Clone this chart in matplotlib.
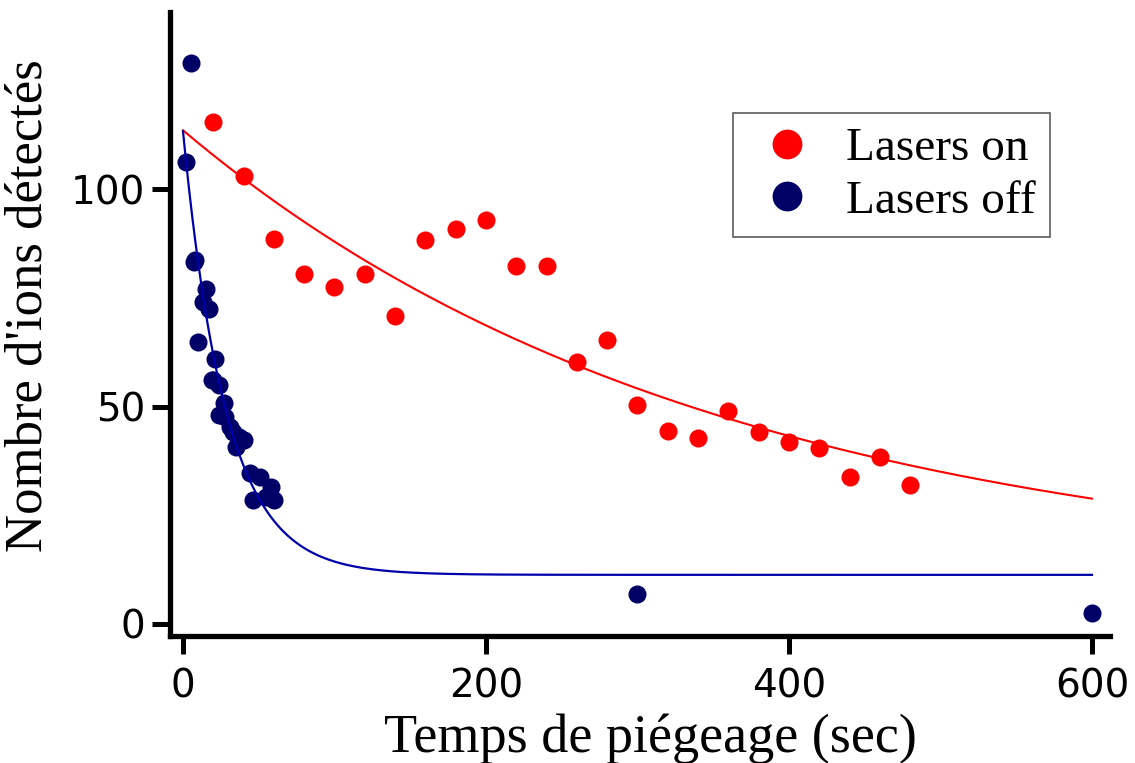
import numpy as np
import matplotlib
matplotlib.use("Agg")
import matplotlib.pyplot as plt

# ===============================
# DATA
# ===============================
t_on = [20, 40, 60, 80, 100, 120, 140, 160, 180, 200, 220, 240,
        260, 280, 300, 320, 340, 360, 380, 400, 420, 440, 460, 480]
n_on = [115.5, 103, 88.5, 80.5, 77.5, 80.5, 70.8, 88.3, 90.8, 92.8, 82.3, 82.3,
        60.2, 65.3, 50.3, 44.4, 42.8, 49, 44.1, 41.8, 40.5, 33.8, 38.4, 32]

t_off = [2, 5, 7, 8, 10, 13, 15, 17, 19, 20, 21, 24, 24, 27, 28, 31, 33,
         35, 37, 40, 44, 46, 51, 55, 58, 60, 300, 600]
n_off = [106.3, 129, 83.2, 83.7, 64.8, 74, 77, 72.4, 56, 56.1, 61, 55, 48, 50.7,
         47.7, 45.4, 44.1, 40.8, 43, 42.3, 34.6, 28.5, 33.9, 29.3, 31.6, 28.5, 7, 2.5]

# exponential fit parameters: amplitude, time constant (s), offset
fit_on = (103.5, 352.0, 10.0)
fit_off = (102.0, 28.5, 11.3)

RED = "#ff0000"
NAVY = "#000066"
BLUE_LINE = "#0000aa"

# ===============================
# PLOT
# ===============================
fig = plt.figure(figsize=(11.35, 7.63), dpi=100)
ax = fig.add_axes([170 / 1135, 127 / 763, 940 / 1135, 624 / 763])

tt = np.linspace(0, 600, 600)
a, tau, c = fit_on
ax.plot(tt, a * np.exp(-tt / tau) + c, color=RED, lw=1.5, zorder=2)
a, tau, c = fit_off
ax.plot(tt, a * np.exp(-tt / tau) + c, color=BLUE_LINE, lw=1.6, zorder=4)

ax.plot(t_on, n_on, "o", color=RED, ms=13, mec="none", label="Lasers on", zorder=3)
ax.plot(t_off, n_off, "o", color=NAVY, ms=13, mec="none", label="Lasers off", zorder=3)

ax.set_xlim(-8.58, 611.9)
ax.set_ylim(-2.76, 140.7)
ax.set_xticks([0, 200, 400, 600])
ax.set_yticks([0, 50, 100])

for side in ["top", "right"]:
    ax.spines[side].set_visible(False)
for side in ["left", "bottom"]:
    ax.spines[side].set_linewidth(3.8)
    ax.spines[side].set_capstyle("projecting")

ax.tick_params(axis="both", length=13, width=3.6, labelsize=28)
ax.tick_params(axis="x", pad=10)
ax.tick_params(axis="y", pad=5)
for lab in ax.get_xticklabels() + ax.get_yticklabels():
    lab.set_family("DejaVu Sans")

ax.set_xlabel("Temps de piégeage (sec)", family="Liberation Serif", fontsize=39)
ax.set_ylabel("Nombre d'ions détectés", family="Liberation Serif", fontsize=38)
ax.xaxis.set_label_coords(0.511, -0.125)
ax.yaxis.set_label_coords(-0.125, 0.53)

leg = ax.legend(loc="upper left", bbox_to_anchor=(733 / 1135, 1 - 113 / 763),
                bbox_transform=fig.transFigure, prop={"family": "Liberation Serif", "size": 34},
                markerscale=1.65, frameon=True, fancybox=False, handletextpad=0.4,
                borderpad=0.3, labelspacing=0.2, handlelength=1.7, borderaxespad=0)
leg.get_frame().set_edgecolor("#333333")
leg.get_frame().set_linewidth(1.2)

fig.savefig("out.png", dpi=100)
